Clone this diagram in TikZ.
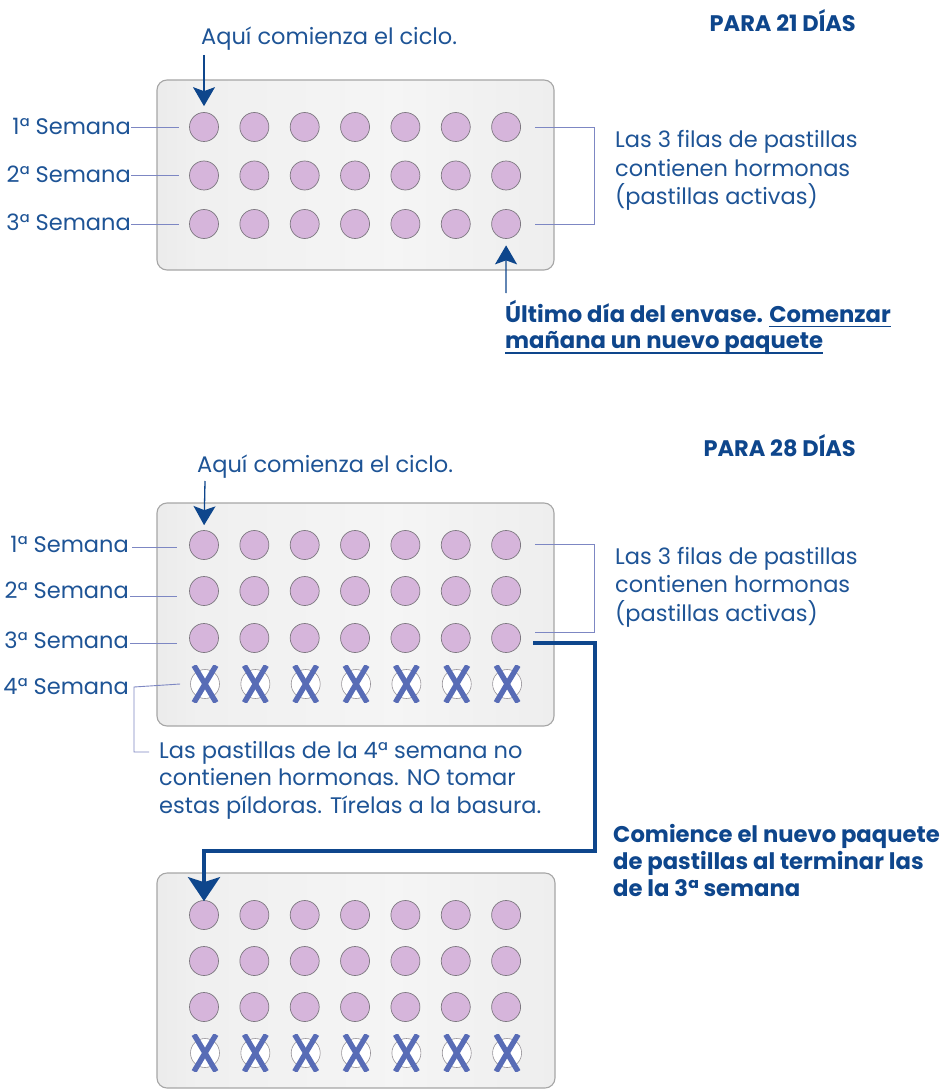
\documentclass[tikz,border=0pt]{standalone}
\usepackage{fontspec}
\setmainfont{Poppins}
\usetikzlibrary{arrows.meta,calc}
\definecolor{txtblue}{RGB}{30,84,150}
\definecolor{darkblue}{RGB}{14,70,140}
\definecolor{leadcol}{RGB}{125,135,195}
\definecolor{xblue}{RGB}{88,108,182}
\definecolor{pillfill}{RGB}{214,181,219}
\definecolor{pillline}{RGB}{125,120,128}
\pgfdeclarehorizontalshading{blistershade}{100bp}{%
  color(0bp)=(black!30); color(12bp)=(black!12); color(30bp)=(black!6);
  color(55bp)=(black!4); color(85bp)=(black!8); color(100bp)=(black!16)}
\tikzset{
  blister/.style={rounded corners=10pt, draw=black!35, line width=1.1pt,
    shading=blistershade, inner sep=0pt},
  pill/.style={circle, draw=pillline, line width=0.7pt, fill=pillfill, minimum size=29pt, inner sep=0pt},
  xpill/.style={circle, draw=pillline!80, line width=0.6pt, fill=white, minimum size=29pt, inner sep=0pt},
  xmark/.style={draw=xblue, line width=5.4pt},
  leader/.style={draw=leadcol, line width=0.9pt},
  uline/.style={draw=darkblue, line width=1.2pt},
  thinarrow/.style={draw=darkblue, line width=1.3pt, -{Stealth[length=19pt,width=22pt,inset=4pt]}},
  bigarrow/.style={draw=darkblue, line width=3.6pt, -{Stealth[length=24pt,width=32pt,inset=5pt]}},
  txt/.style={inner sep=0pt, text=txtblue, font=\fontsize{22.5}{27}\selectfont},
  btxt/.style={inner sep=0pt, text=darkblue, font=\fontsize{22.7}{27}\selectfont\bfseries},
  ttl/.style={inner sep=0pt, text=darkblue, font=\fontsize{22.5}{27}\selectfont\bfseries},
}
\newcommand\crossmark[1]{%
  \begin{scope}
    \clip ($(#1)+(-17,-18.5)$) rectangle ($(#1)+(17,18.5)$);
    \draw[xmark] ($(#1)+(-11,-18.5)$) -- ($(#1)+(11,18.5)$);
    \draw[xmark] ($(#1)+(11,-18.5)$) -- ($(#1)+(-11,18.5)$);
  \end{scope}}
\begin{document}
\begin{tikzpicture}[x=1pt,y=-1pt]
\useasboundingbox[fill=white] (0,0) rectangle (951,1091);

% ---------------- 21 days ----------------
\node[ttl, anchor=base east] (t21) at (856,32) {PARA 21 DÍAS};
\node[txt, anchor=base west] (aq1) at (201,45) {Aquí comienza el ciclo.};
\node[blister, minimum width=397pt, minimum height=190pt] (b21) at (355.5,175) {};
\foreach \r/\yy in {1/127,2/175.5,3/224}
  \foreach \c in {1,...,7}
    \node[pill] (a-\r-\c) at ({204+50.35*(\c-1)},\yy) {};
\node[txt, anchor=base east] (s11) at (131,135) {1ª Semana};
\node[txt, anchor=base east] (s12) at (131,183) {2ª Semana};
\node[txt, anchor=base east] (s13) at (131,231) {3ª Semana};
\draw[leader] (s11.east |- a-1-1) -- ([xshift=-10pt]a-1-1.west);
\draw[leader] (s12.east |- a-2-1) -- ([xshift=-10pt]a-2-1.west);
\draw[leader] (s13.east |- a-3-1) -- ([xshift=-10pt]a-3-1.west);
\coordinate (aq1start) at (204,55);
\draw[thinarrow, shorten >=6pt] (aq1start) -- (a-1-1.north);
\draw[leader] ([xshift=14pt]a-1-7.east) -- ++(59.5,0) |- ([xshift=14pt]a-3-7.east);
\node[txt, anchor=base west] (f11) at (615,148) {Las 3 filas de pastillas};
\node[txt, anchor=base west] (f12) at (615,176.5) {contienen hormonas};
\node[txt, anchor=base west] (f13) at (615,205) {(pastillas activas)};
\node[btxt, anchor=base west] (u1) at (505,322) {Último día del envase.};
\node[btxt, anchor=base west] (u1b) at ([xshift=6pt]u1.base east) {Comenzar};
\node[btxt, anchor=base west] (u2) at (505,348) {mañana un nuevo paquete};
\draw[uline] ([yshift=-4.5pt]u1b.base west) -- ([yshift=-4.5pt]u1b.base east);
\draw[uline] ([yshift=-5pt]u2.base west) -- ([yshift=-5pt]u2.base east);
\coordinate (u1start) at (506,293);
\draw[thinarrow, shorten >=6.5pt] (u1start) -- (a-3-7.south);

% ---------------- 28 days ----------------
\node[ttl, anchor=base east] (t28) at (856,456) {PARA 28 DÍAS};
\node[txt, anchor=base west] (aq2) at (197,472) {Aquí comienza el ciclo.};
\node[blister, minimum width=397pt, minimum height=223pt] (b28) at (355.5,614.5) {};
\foreach \r/\yy in {1/545,2/591,3/638}
  \foreach \c in {1,...,7}
    \node[pill] (b-\r-\c) at ({204+50.35*(\c-1)},\yy) {};
\foreach \c in {1,...,7} {
  \node[xpill] (b-4-\c) at ({205+50.35*(\c-1)},684) {};
  \crossmark{b-4-\c}
}
\node[txt, anchor=base east] (s21) at (129,552) {1ª Semana};
\node[txt, anchor=base east] (s22) at (129,598) {2ª Semana};
\node[txt, anchor=base east] (s23) at (129,648) {3ª Semana};
\node[txt, anchor=base east] (s24) at (129,694) {4ª Semana};
\draw[leader] ([xshift=3pt]s21.east |- 0,547) -- (177,547);
\draw[leader] ([xshift=1pt]s22.east |- 0,596) -- (177,596);
\draw[leader] ([xshift=1pt]s23.east |- 0,643) -- (177,643);
\coordinate (aq2start) at (205,481);
\draw[thinarrow, shorten >=5pt] (aq2start) -- (b-1-1.north);
\draw[leader] ([shift={(14,-1)}]b-1-7.east) -- ++(59.5,0) |- ([shift={(14,-6)}]b-3-7.east);
\node[txt, anchor=base west] (f21) at (615,564) {Las 3 filas de pastillas};
\node[txt, anchor=base west] (f22) at (615,592.5) {contienen hormonas};
\node[txt, anchor=base west] (f23) at (615,621) {(pastillas activas)};
\node[txt, anchor=base west] (n1) at (159,758) {Las pastillas de la 4ª semana no};
\node[txt, anchor=base west] (n2) at (159,785) {contienen hormonas. NO tomar};
\node[txt, anchor=base west] (n3) at (159,813) {estas píldoras. Tírelas a la basura.};
\draw[leader] ([shift={(-10,0)}]b-4-1.west) -- ([xshift=5pt]s24.east |- 0,687) |- ([xshift=-10pt]n1.west |- 0,752);
\node[btxt, anchor=base west] (c1) at (613,842) {Comience el nuevo paquete};
\node[btxt, anchor=base west] (c2) at (613,869) {de pastillas al terminar las};
\node[btxt, anchor=base west] (c3) at (613,896) {de la 3ª semana};

% ---------------- new pack ----------------
\node[blister, minimum width=398pt, minimum height=215pt] (b3) at (356,980.5) {};
\foreach \r/\yy in {1/915,2/961,3/1007}
  \foreach \c in {1,...,7}
    \node[pill] (c-\r-\c) at ({204+50.35*(\c-1)},\yy) {};
\foreach \c in {1,...,7} {
  \node[xpill] (c-4-\c) at ({205+50.35*(\c-1)},1053) {};
  \crossmark{c-4-\c}
}
\coordinate (turn) at (595,851);
\draw[bigarrow, line join=miter] ([shift={(12.5,5)}]b-3-7.east) -| (turn) -| ([yshift=-1pt]c-1-1.north);
\end{tikzpicture}
\end{document}
